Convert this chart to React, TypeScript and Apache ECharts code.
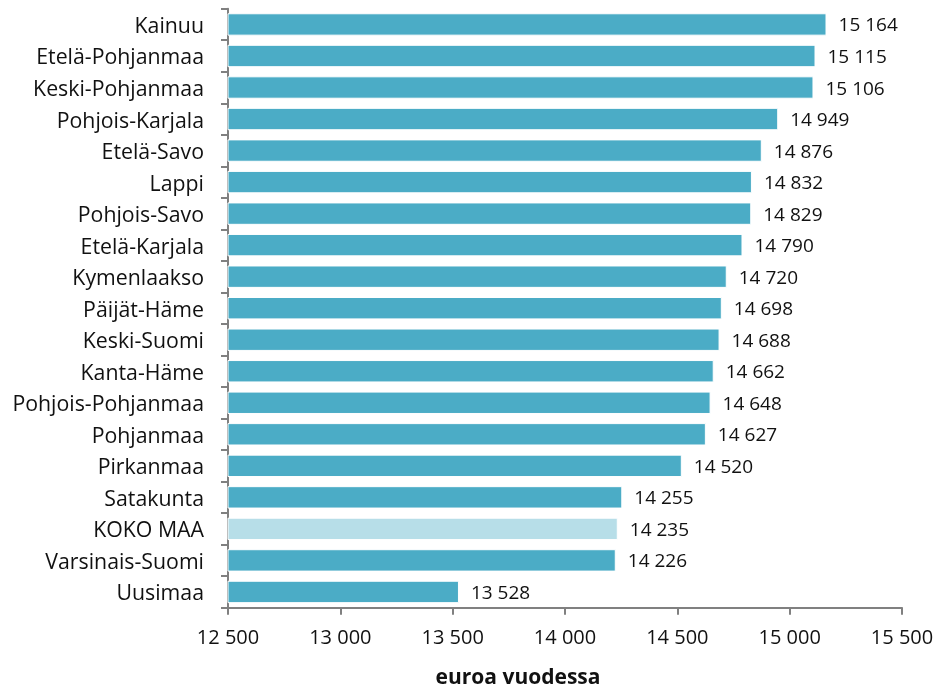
import React, { useEffect, useRef } from "react";
import * as echarts from "echarts";

const categories = [
  "Kainuu", "Etelä-Pohjanmaa", "Keski-Pohjanmaa", "Pohjois-Karjala", "Etelä-Savo",
  "Lappi", "Pohjois-Savo", "Etelä-Karjala", "Kymenlaakso", "Päijät-Häme",
  "Keski-Suomi", "Kanta-Häme", "Pohjois-Pohjanmaa", "Pohjanmaa", "Pirkanmaa",
  "Satakunta", "KOKO MAA", "Varsinais-Suomi", "Uusimaa",
];
const values = [
  15164, 15115, 15106, 14949, 14876, 14832, 14829, 14790, 14720, 14698,
  14688, 14662, 14648, 14627, 14520, 14255, 14235, 14226, 13528,
];
const highlight = "KOKO MAA";
const axisName = "euroa vuodessa";

const fmt = (v: number) => String(v).replace(/\B(?=(\d{3})+(?!\d))/g, " ");
const FONT = "'Open Sans', 'Noto Sans', sans-serif";
const TEXT = "#111111";

export default function App() {
  const ref = useRef<HTMLDivElement>(null);
  useEffect(() => {
    const chart = echarts.init(ref.current!, null, { renderer: "svg" });
    const cats = [...categories].reverse();
    const vals = [...values].reverse();
    chart.setOption({
      animation: false,
      grid: { left: 228, right: 36, top: 8.7, bottom: 81.3, containLabel: false },
      xAxis: {
        type: "value",
        min: 12500,
        max: 15500,
        interval: 500,
        axisLine: { show: true, lineStyle: { color: "#808080", width: 2 } },
        axisTick: { show: true, length: 7, lineStyle: { color: "#808080", width: 2 } },
        splitLine: { show: false },
        axisLabel: {
          formatter: (v: number) => fmt(v),
          color: TEXT,
          fontFamily: FONT,
          fontSize: 20,
          margin: 19,
        },
      },
      yAxis: {
        type: "category",
        data: cats,
        axisLine: { show: true, lineStyle: { color: "#808080", width: 2 } },
        axisTick: { show: true, length: 7, alignWithLabel: false, lineStyle: { color: "#808080", width: 2 } },
        axisLabel: {
          color: TEXT,
          fontFamily: FONT,
          fontSize: 21.3,
          margin: 24,
        },
      },
      series: [
        {
          type: "bar",
          data: vals.map((v, i) => ({
            value: v,
            itemStyle: { color: cats[i] === highlight ? "#B7DEE8" : "#4BACC6" },
          })),
          barCategoryGap: "29%",
          itemStyle: { borderColor: "#ffffff", borderWidth: 1 },
          label: {
            show: true,
            position: "right",
            distance: 12,
            formatter: (p: any) => fmt(p.value),
            color: TEXT,
            fontFamily: FONT,
            fontSize: 19,
          },
        },
      ],
      graphic: [
        {
          type: "text",
          x: 518,
          y: 676,
          style: {
            text: axisName,
            fill: TEXT,
            font: `bold 21px ${FONT}`,
            textAlign: "center",
            textVerticalAlign: "middle",
          },
        },
      ],
    });
    return () => chart.dispose();
  }, []);
  return (
    <div
      ref={ref}
      style={{ position: "fixed", left: 0, top: 0, width: 938, height: 689 }}
    />
  );
}
